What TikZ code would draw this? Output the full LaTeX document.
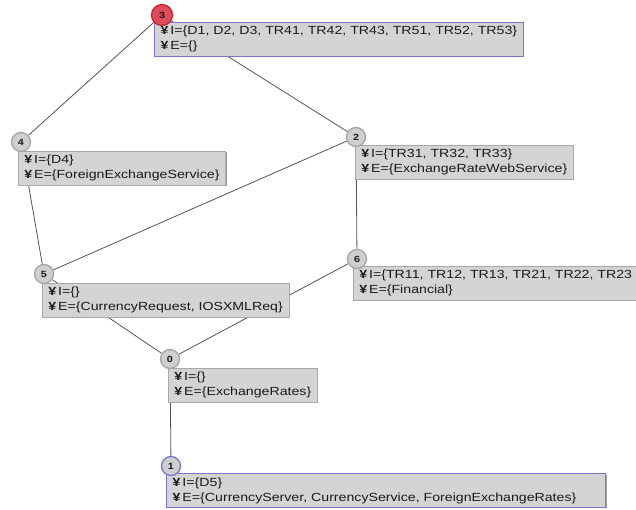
\documentclass[tikz,border=0pt]{standalone}
\usepackage{fontspec}
\setmainfont{Liberation Sans}[FakeStretch=1.2]
\usetikzlibrary{shadows}
\definecolor{boxfill}{HTML}{D4D4D4}
\definecolor{boxline}{HTML}{A8A8A8}
\definecolor{selline}{HTML}{7777CC}
\definecolor{circfill}{HTML}{CFCFCF}
\definecolor{circline}{HTML}{A5A5A5}
\definecolor{redfill}{HTML}{E04A5A}
\definecolor{redline}{HTML}{C02838}
\definecolor{edgecol}{HTML}{555555}
\definecolor{txt}{HTML}{1A1A1A}
\pgfdeclarelayer{edgelayer}
\pgfdeclarelayer{boxlayer}
\pgfsetlayers{edgelayer,boxlayer,main}
\newcommand\bul{{\bfseries ¥}\,}
\begin{document}
\begin{tikzpicture}[x=1pt,y=-1pt,
  num/.style={circle, minimum size=19pt, inner sep=0pt, fill=circfill, draw=circline, line width=1.3pt, font=\fontsize{9}{9}\selectfont\bfseries, text=txt},
  numsel/.style={num, draw=selline},
  numred/.style={num, minimum size=21pt, fill=redfill, draw=redline},
  infobox/.style={rectangle, anchor=north west, fill=boxfill, draw=boxline, line width=0.6pt, align=left, inner xsep=6pt, inner ysep=3.8pt, font=\fontsize{11.8}{15}\selectfont, text=txt, drop shadow={shadow xshift=1.2pt, shadow yshift=-1.2pt, fill=gray!75, opacity=1}},
  infoboxsel/.style={infobox, draw=selline, line width=1.3pt},
  edgeline/.style={draw=edgecol, line width=0.8pt}]
\useasboundingbox (0,0) rectangle (636,510);
% level circles
\node[numred] (c3) at (162,15) {3};
\node[num] (c4) at (21,142) {4};
\node[num] (c2) at (356,137) {2};
\node[num] (c5) at (44,274) {5};
\node[num] (c6) at (357,259) {6};
\node[num] (c0) at (170,359) {0};
\node[numsel] (c1) at (171,466) {1};
% boxes
\begin{pgfonlayer}{boxlayer}
\node[infoboxsel] (b3) at (154,22) {\bul I=\{D1, D2, D3, TR41, TR42, TR43, TR51, TR52, TR53\}\\\bul E=\{\}};
\node[infobox] (b4) at (18,151) {\bul I=\{D4\}\\\bul E=\{ForeignExchangeService\}};
\node[infobox] (b2) at (355,145) {\bul I=\{TR31, TR32, TR33\}\\\bul E=\{ExchangeRateWebService\}};
\node[infobox] (b5) at (42,283) {\bul I=\{\}\\\bul E=\{CurrencyRequest, IOSXMLReq\}};
\node[infobox, text width=300pt] (b6) at (353,266) {\bul I=\{TR11, TR12, TR13, TR21, TR22, TR23\\\bul E=\{Financial\}};
\node[infobox] (b0) at (168,368) {\bul I=\{\}\\\bul E=\{ExchangeRates\}};
\node[infoboxsel, text width=427pt] (b1) at (166,473) {\bul I=\{D5\}\\\bul E=\{CurrencyServer, CurrencyService, ForeignExchangeRates\}};
\end{pgfonlayer}
% edges
\begin{pgfonlayer}{edgelayer}
\fill[white] (0,0) rectangle (636,510);
\draw[edgeline] (c3) -- (c4);
\draw[edgeline] (c3) -- (c2);
\draw[edgeline] (c4) -- (c5);
\draw[edgeline] (c2) -- (c5);
\draw[edgeline] (c2) -- (c6);
\draw[edgeline] (c5) -- (c0);
\draw[edgeline] (c6) -- (c0);
\draw[edgeline] (c0) -- (c1);
\end{pgfonlayer}
\end{tikzpicture}
\end{document}
